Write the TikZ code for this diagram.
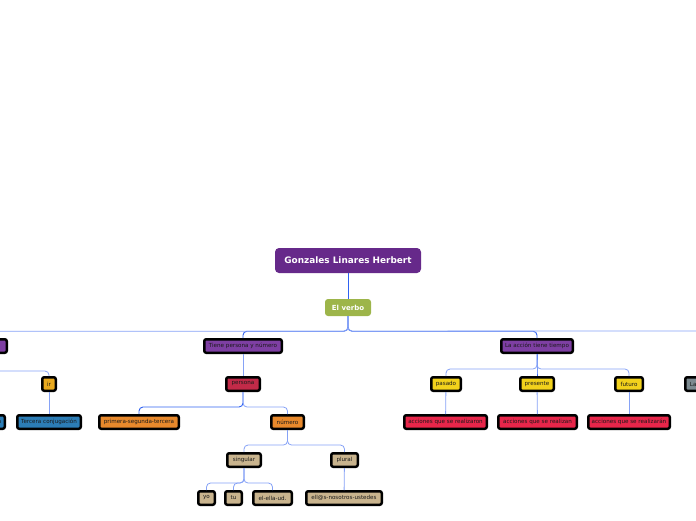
\documentclass[tikz,border=0pt]{standalone}
\usepackage{fontspec}
\setmainfont{DejaVu Sans}
\usetikzlibrary{positioning}
\definecolor{rootpurple}{HTML}{66298A}
\definecolor{olive}{HTML}{9DB54A}
\definecolor{lilac}{HTML}{7E3FA3}
\definecolor{crimsonred}{HTML}{C22A48}
\definecolor{amber}{HTML}{E8892C}
\definecolor{sand}{HTML}{C9B48E}
\definecolor{lemon}{HTML}{F2D21C}
\definecolor{rosered}{HTML}{E8264A}
\definecolor{gold}{HTML}{E9A91E}
\definecolor{ocean}{HTML}{2C7DB6}
\definecolor{slate}{HTML}{7C8A90}
\definecolor{linkblue}{HTML}{2F62F2}
\definecolor{softblue}{HTML}{86A2F6}

\begin{document}
\begin{tikzpicture}[
    x=1pt, y=-1pt,
    topic/.style={fill=rootpurple, text=white, font=\bfseries\fontsize{8.9}{10}\selectfont,
        rounded corners=4pt, minimum width=146pt, minimum height=25pt, inner sep=0pt},
    subtopic/.style={fill=olive, text=white, font=\bfseries\fontsize{7}{8}\selectfont,
        rounded corners=3pt, minimum width=46pt, minimum height=17pt, inner sep=0pt},
    box/.style={draw=black, line width=2.5pt, rounded corners=2pt, text=black!90,
        font=\fontsize{5.6}{6.5}\selectfont, minimum height=13.5pt, inner xsep=1.5pt, inner ysep=0pt},
    mainlink/.style={draw=linkblue, line width=0.9pt, rounded corners=4pt},
    link/.style={draw=softblue, line width=0.8pt, rounded corners=4pt}
]
    \useasboundingbox (0,0) rectangle (696,520);
    \clip (0,0) rectangle (696,520);

    % Central topic and main branch
    \node[topic] (root) at (348,260.5) {Gonzales Linares Herbert};
    \node[subtopic] (verbo) at (348,307.5) {El verbo};

    % First level (y = 346)
    \node[box, fill=lilac, minimum width=73.5pt] (conj) at (-30,346) {Conjugación ar-er-ir};
    \node[box, fill=lilac, minimum width=77.5pt] (tiene) at (243,346) {Tiene persona y número};
    \node[box, fill=lilac, minimum width=71.5pt] (accion) at (537,346) {La acción tiene tiempo};

    % Second level (y = 384)
    \node[box, fill=gold, minimum width=13.5pt] (ir) at (49,384) {ir};
    \node[box, fill=crimsonred, minimum width=33.5pt] (persona) at (243,384) {persona};
    \node[box, fill=lemon, minimum width=29.5pt] (pasado) at (446,384) {pasado};
    \node[box, fill=lemon, minimum width=33.5pt] (presente) at (537,384) {presente};
    \node[box, fill=lemon, minimum width=27.5pt] (futuro) at (629,384) {futuro};
    \node[box, fill=slate, minimum width=69.5pt] (modo) at (720,384) {La acción tiene modo};

    % Third level (y = 422)
    \node[box, fill=ocean, minimum width=67.5pt] (segunda) at (-29,422) {Segunda conjugación};
    \node[box, fill=ocean, minimum width=63.5pt] (tercera) at (49,422) {Tercera conjugación};
    \node[box, fill=amber, minimum width=79.5pt] (primera) at (139,422) {primera-segunda-tercera};
    \node[box, fill=amber, minimum width=32.5pt] (numero) at (287.5,422) {número};
    \node[box, fill=rosered, minimum width=82.5pt] (realizaron) at (445.5,422) {acciones que se realizaron};
    \node[box, fill=rosered, minimum width=78.5pt] (realizan) at (537.5,422) {acciones que se realizan};
    \node[box, fill=rosered, minimum width=81.5pt] (realizaran) at (629,422) {acciones que se realizarán};

    % Number: singular / plural
    \node[box, fill=sand, minimum width=33.5pt] (singular) at (244,460) {singular};
    \node[box, fill=sand, minimum width=26.5pt] (plural) at (344.5,460) {plural};
    \node[box, fill=sand, minimum width=16.5pt] (yo) at (206.5,498) {yo};
    \node[box, fill=sand, minimum width=16.5pt] (tu) at (233.5,498) {tu};
    \node[box, fill=sand, minimum width=38.5pt] (elella) at (272.5,498) {el-ella-ud.};
    \node[box, fill=sand, minimum width=75.5pt] (ellos) at (344,498) {ell@s-nosotros-ustedes};

    % Main connectors
    \coordinate (busR) at (696,331);
    \draw[mainlink] (root) -- (verbo);
    \draw[mainlink] (verbo.south) -- ++(0,15) -| (tiene.north);
    \draw[mainlink] (verbo.south) -- ++(0,15) -| (accion.north);
    \draw[link] (verbo.south) -- ++(0,15) -| (conj.north);
    \draw[link] (verbo.south) -- ++(0,15) -- (busR);

    % Conjugation branch
    \draw[link] (conj.south) -- ++(0,17) -| (ir.north);
    \draw[link] (ir) -- (tercera);

    % Person and number branch
    \draw[link] (tiene) -- (persona);
    \draw[mainlink] (persona.south) -- ++(0,15) -| (primera.north);
    \draw[link] (persona.south) -- ++(0,15) -| (numero.north);
    \draw[link] (numero.south) -- ++(0,15) -| (singular.north);
    \draw[link] (numero.south) -- ++(0,15) -| (plural.north);
    \draw[link] (singular.south) -- ++(0,15) -| (yo.north);
    \draw[link] (singular.south) -- ++(0,15) -| (tu.north);
    \draw[link] (singular.south) -- ++(0,15) -| (elella.north);
    \draw[link] (plural) -- (ellos);

    % Tense branch
    \draw[mainlink] (accion.south) -- ++(0,15) -| (presente.north);
    \draw[link] (accion.south) -- ++(0,15) -| (pasado.north);
    \draw[link] (accion.south) -- ++(0,15) -| (futuro.north);
    \draw[link] (pasado) -- (realizaron);
    \draw[link] (presente) -- (realizan);
    \draw[link] (futuro) -- (realizaran);
\end{tikzpicture}
\end{document}
